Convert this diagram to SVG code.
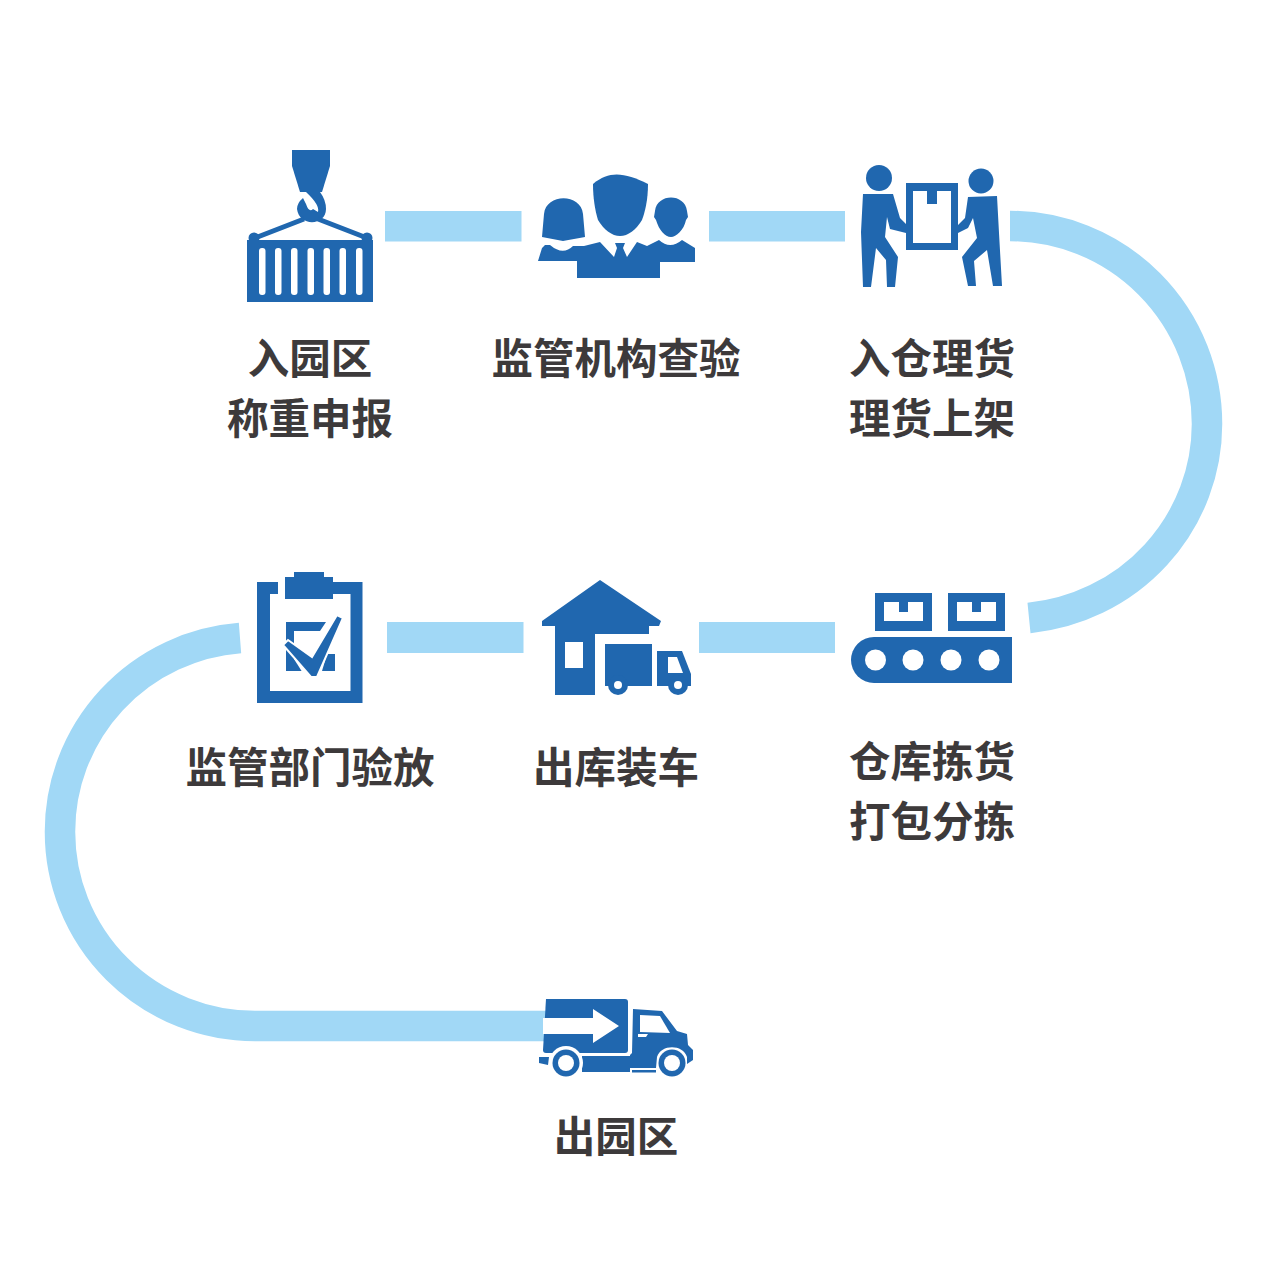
<svg xmlns="http://www.w3.org/2000/svg" width="1267" height="1267" viewBox="0 0 1267 1267">
<style>
.b{fill:#2067af}
.w{fill:#fff}
.c{fill:#a1d8f6}
.s{fill:none;stroke:#a1d8f6;stroke-width:30.5}
.t{font-family:"Noto Sans CJK SC","Noto Sans",sans-serif;font-weight:700;font-size:41.5px;fill:#3d3a3b;text-anchor:middle}
</style>
<rect width="1267" height="1267" fill="#fff"/>
<g id="connectors">
<rect class="c" x="385" y="211" width="136.500" height="30.500"/>
<rect class="c" x="709" y="211" width="136" height="30.500"/>
<path class="s" d="M1010 226 A197 198 0 0 1 1207 424 A198 195 0 0 1 1029 618"/>
<rect class="c" x="387" y="622" width="136.500" height="31"/>
<rect class="c" x="699" y="622" width="136" height="31"/>
<path class="s" d="M240 638 A195 194 0 0 0 60 832 A195 194 0 0 0 255 1026 H560"/>
</g>
<g id="node-crane">
<path class="b" d="M292 150H330V166L322 192H300L292 166Z"/>
<path class="b" fill-rule="evenodd" d="M306 192H320Q326 200 326 209C326 226 299 227 297 209Q297 203 303 198L306 204Q309 213 313 209L318 212Q320 205 306 192Z"/>
<path d="M255 238L304 219M367 238L318 219" fill="none" stroke="#2067af" stroke-width="5"/>
<circle class="b" cx="254" cy="238" r="5.500"/>
<circle class="b" cx="367" cy="238" r="5.500"/>
<path class="b" d="M247 240H373V302H247Z"/>
<g class="w">
<rect x="259" y="248" width="6.500" height="47" rx="3"/>
<rect x="275" y="248" width="6.500" height="47" rx="3"/>
<rect x="291" y="248" width="6.500" height="47" rx="3"/>
<rect x="307.500" y="248" width="6.500" height="47" rx="3"/>
<rect x="323.500" y="248" width="6.500" height="47" rx="3"/>
<rect x="339.500" y="248" width="6.500" height="47" rx="3"/>
<rect x="356" y="248" width="6.500" height="47" rx="3"/>
</g>
<text class="t" x="310" y="374">入园区</text>
<text class="t" x="310" y="434">称重申报</text>
</g>
<g id="node-inspect">
<path class="b" d="M542 237L544 214C546 193 581 193 583 214L585 237C578 238 570 240 563 241C556 240 549 238 542 237Z"/>
<path class="b" d="M593 184C610 170 625 173 648 184C648 200 645 212 642 220C636 230 628 236 620 236C612 236 604 230 598 220C595 210 593 198 593 184Z"/>
<path class="b" d="M655 211C657 193 685 193 687 211L688 217L686 220C684 230 676 237 671 237C665 237 659 230 656 220L654 217Z"/>
<path class="b" d="M538 261L542 248L545 245H550Q563 256 573 246H584L600 242L614 257L617 248L615 243H625L623 248L627 257L637 242L647 246L659 240Q670 250 682 240L695 248V262H660V278H577V261Z"/>
<text class="t" x="616" y="374">监管机构查验</text>
</g>
<g id="node-movers">
<circle class="b" cx="879" cy="178" r="13"/>
<circle class="b" cx="981" cy="181" r="12.500"/>
<path class="b" fill-rule="evenodd" d="M906 183H958V250H906ZM913 191V243H951V191H937V204H927V191Z"/>
<path class="b" d="M863 194H893L900 218L906 224V233L890 229L887 217L885 237L898 257L895 287H887L886 260L876 248L871 287H863L861 232Z"/>
<path class="b" d="M968 197L997 196L999 233L1002 286H993L987 250L974 261L976 286H968L962 257L977 238L973 218L968 228L958 233V225L965 218Z"/>
<text class="t" x="932" y="374">入仓理货</text>
<text class="t" x="932" y="434">理货上架</text>
</g>
<g id="node-conveyor">
<path class="b" fill-rule="evenodd" d="M875 593H932V631H875ZM884 602V621H923V602H908V612H899V602Z"/>
<path class="b" fill-rule="evenodd" d="M948 593H1005V631H948ZM957 602V621H996V602H981V612H972V602Z"/>
<path class="b" d="M874 637H1012V683H874A23 23 0 0 1 874 637Z"/>
<g class="w">
<circle cx="875.500" cy="660" r="10.500"/>
<circle cx="913" cy="660" r="10.500"/>
<circle cx="951" cy="660" r="10.500"/>
<circle cx="989" cy="660" r="10.500"/>
</g>
<text class="t" x="932" y="777">仓库拣货</text>
<text class="t" x="932" y="837">打包分拣</text>
</g>
<g id="node-warehouse">
<path class="b" d="M600 580L661 621L659 626H649V634H595V695H555V626H542V621Z"/>
<rect class="w" x="565" y="642" width="18" height="26"/>
<rect class="b" x="605" y="644" width="47" height="42"/>
<path class="b" d="M657 651H682L691 674V686H657Z"/>
<path class="w" d="M668 657H677L683 673H668Z"/>
<circle class="b" cx="618" cy="685" r="10"/>
<circle class="w" cx="618" cy="685" r="4"/>
<circle class="b" cx="678" cy="685" r="10"/>
<circle class="w" cx="678" cy="685" r="4"/>
<text class="t" x="616" y="783">出库装车</text>
</g>
<g id="node-clipboard">
<path class="b" d="M257 582H278V594H270V691H350.500V594H333V582H362.500V703H257Z"/>
<path class="b" d="M285 577H294V572H324V577H333V599H285Z"/>
<path class="b" d="M286 622H326L320 631H294V645H286Z"/>
<path class="b" d="M286 645H294L312 664L302 671H286Z"/>
<path class="b" d="M327 654H335V671H322Z"/>
<path class="w" d="M294 659L303 653L313 672L306 678Z"/>
<path class="b" stroke="#fff" stroke-width="2" d="M283 645L288 640L312 657L337 615L343 618L317 677L311 677Z"/>
<text class="t" x="310" y="783">监管部门验放</text>
</g>
<g id="node-truck">
<path class="b" d="M546 999H625Q628 999 628 1002V1050Q628 1053 625 1053H546Q543 1053 543 1050Z"/>
<path class="w" d="M543 1018H593V1009L619 1026L593 1043V1034H543Z"/>
<path class="b" d="M633 1009L662 1011L677 1031L687 1034L688 1045L693 1050V1060L687 1064V1057C683 1044 661 1044 657 1057L656 1068H630V1072H582V1056H630V1055L632 1053Z"/>
<path class="w" d="M640 1015L660 1016L670 1033L640 1032Z"/>
<path class="w" d="M638 1034H648L646 1037H638Z"/>
<path class="b" d="M539 1057H549L548 1065L539 1063Z"/>
<rect class="b" x="632" y="1070" width="24" height="2.500"/>
<circle class="w" cx="566" cy="1063" r="17"/>
<circle class="b" cx="566" cy="1063" r="13.500"/>
<circle class="w" cx="566" cy="1063" r="8"/>
<circle class="w" cx="672" cy="1063" r="15"/>
<circle class="b" cx="672" cy="1063" r="13.500"/>
<circle class="w" cx="672" cy="1063" r="8"/>
<text class="t" x="616" y="1152">出园区</text>
</g>
</svg>
